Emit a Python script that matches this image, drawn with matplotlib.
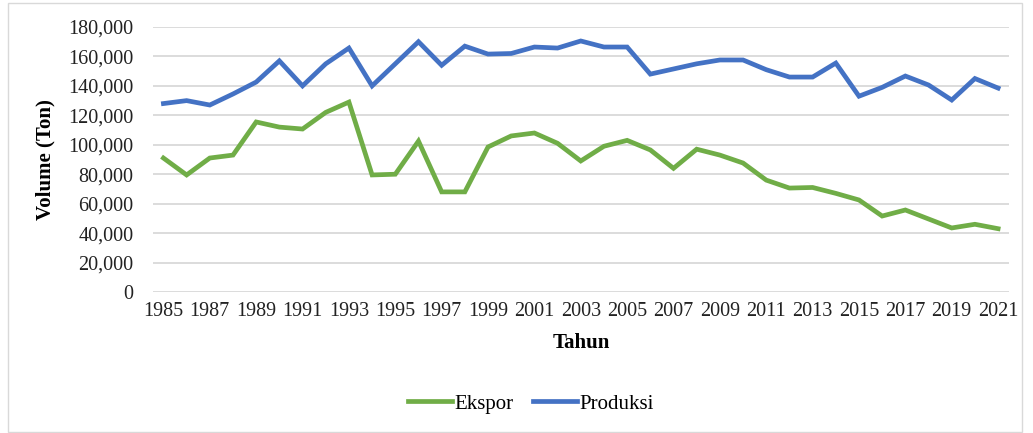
import matplotlib.pyplot as plt
from matplotlib.patches import Rectangle
from matplotlib.ticker import FuncFormatter

# data
tahun = list(range(1985, 2022))
produksi = [128000, 130000, 127000, 134500, 142600, 157000, 140000, 155000, 165700, 140000,
            155000, 170000, 154000, 167000, 161600, 162000, 166400, 165700, 170500, 166400,
            166400, 148000, 151500, 155000, 157600, 157600, 151000, 146000, 146000, 155500,
            133000, 139000, 146700, 140600, 130400, 145000, 138500]
ekspor = [91000, 79500, 91000, 93000, 115500, 112000, 110700, 122000, 129000, 79500,
          80000, 102500, 68000, 68000, 98500, 106000, 108000, 101000, 89000, 99000,
          103000, 96500, 84000, 97000, 93000, 87600, 76000, 70600, 71000, 67000,
          62500, 51600, 55700, 49600, 43500, 46000, 43000]

plt.rcParams['font.family'] = ['Liberation Serif', 'DejaVu Serif']

fig = plt.figure(figsize=(10.33, 4.33), dpi=100)
ax = fig.add_axes([153/1033, 1 - 292/433, (1009-153)/1033, (292-27)/433])

ax.plot(tahun, ekspor, color='#70AD47', lw=3.4, label='Ekspor', solid_joinstyle='miter')
ax.plot(tahun, produksi, color='#4472C4', lw=3.4, label='Produksi', solid_joinstyle='miter')

ax.set_ylim(0, 180000)
ax.set_yticks(range(0, 180001, 20000))
ax.yaxis.set_major_formatter(FuncFormatter(lambda v, p: f'{int(v):,}'))
ax.set_xlim(1984.55, 2021.47)
ax.set_xticks(tahun[::2])
ax.grid(axis='y', color='#d9d9d9', lw=1.3)
ax.set_axisbelow(True)
for s in ax.spines.values():
    s.set_visible(False)
ax.tick_params(length=0, labelsize=14.5, colors='#222222', pad=7)
ax.tick_params(axis='y', pad=14)

ax.set_xlabel('Tahun', fontsize=15, fontweight='bold', labelpad=9)
ax.set_ylabel('Volume (Ton)', fontsize=15, fontweight='bold', labelpad=9)

fig.legend(loc='center', bbox_to_anchor=(531/1033, 1 - 404/433), ncol=2, frameon=False,
           fontsize=15, handlelength=2.1, handletextpad=0.15, columnspacing=0.9)

fig.patches.append(Rectangle((8/1033, 0.002), 1014/1033, 1 - 3/433 - 0.002, transform=fig.transFigure,
                             fill=False, edgecolor='#d9d9d9', lw=1))

fig.savefig('out.png', dpi=100)
